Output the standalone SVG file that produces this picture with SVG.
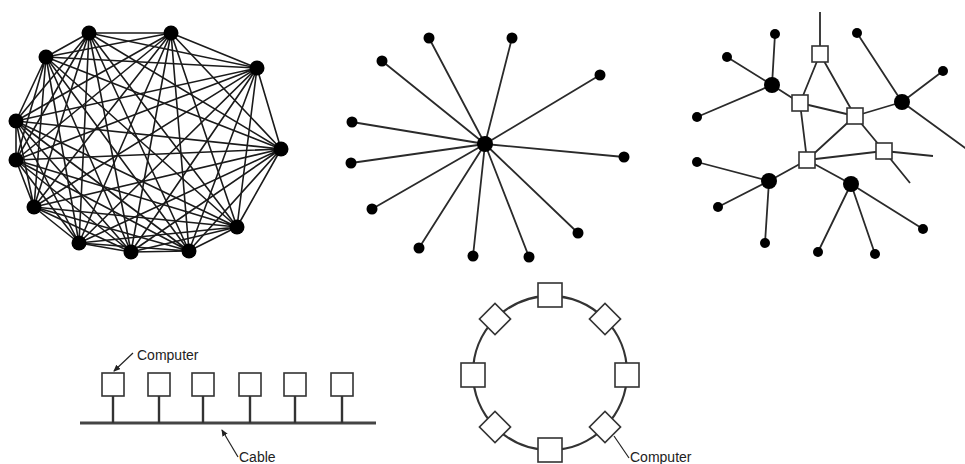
<svg xmlns="http://www.w3.org/2000/svg" width="965" height="464" viewBox="0 0 965 464">
<style>
.bg{fill:#fff}
.edge{stroke:#1a1a1a;stroke-width:1.6;fill:none}
.spoke{stroke:#2a2a2a;stroke-width:1.8;fill:none}
.dot{fill:#000}
.box{fill:#fff;stroke:#333;stroke-width:1.6}
.lbl{font-family:"Liberation Sans",Arial,sans-serif;font-size:14px;fill:#222}
.lead{stroke:#222;stroke-width:1.2;fill:none}
.cable{stroke:#444;stroke-width:3}
.stem{stroke:#333;stroke-width:2.4}
.ring{stroke:#333;stroke-width:2.3;fill:none}
</style>
<defs>
<marker id="arr" markerWidth="8" markerHeight="8" refX="6" refY="3" orient="auto" markerUnits="userSpaceOnUse">
<path d="M0,0 L7,3 L0,6 z" fill="#222"/>
</marker>
</defs>
<rect class="bg" x="0" y="0" width="965" height="464"/>

<g id="connectors">
<g id="mesh-edges" class="edge">
<path d="M89 33L171 33M89 33L257 68M89 33L281 149M89 33L237 227M89 33L189 251M89 33L131 252M89 33L79 243M89 33L34 207M89 33L16 160M89 33L16 121M89 33L46 57"/>
<path d="M171 33L257 68M171 33L281 149M171 33L237 227M171 33L189 251M171 33L131 252M171 33L79 243M171 33L34 207M171 33L16 160M171 33L16 121M171 33L46 57"/>
<path d="M257 68L281 149M257 68L237 227M257 68L189 251M257 68L131 252M257 68L79 243M257 68L34 207M257 68L16 160M257 68L16 121M257 68L46 57"/>
<path d="M281 149L237 227M281 149L189 251M281 149L131 252M281 149L79 243M281 149L34 207M281 149L16 160M281 149L16 121M281 149L46 57"/>
<path d="M237 227L189 251M237 227L131 252M237 227L79 243M237 227L34 207M237 227L16 160M237 227L16 121M237 227L46 57"/>
<path d="M189 251L131 252M189 251L79 243M189 251L34 207M189 251L16 160M189 251L16 121M189 251L46 57"/>
<path d="M131 252L79 243M131 252L34 207M131 252L16 160M131 252L16 121M131 252L46 57"/>
<path d="M79 243L34 207M79 243L16 160M79 243L16 121M79 243L46 57"/>
<path d="M34 207L16 160M34 207L16 121M34 207L46 57"/>
<path d="M16 160L16 121M16 160L46 57M16 121L46 57"/>
</g>
<g id="star-edges" class="spoke">
<path d="M485 144L429 38M485 144L512 38M485 144L600 75M485 144L382 61M485 144L352 122M485 144L351 163M485 144L624 157M485 144L372 209M485 144L419 248M485 144L473 256M485 144L529 257M485 144L578 233"/>
</g>
<g id="tree-edges" class="spoke">
<path d="M820 54L820 12"/>
<path d="M820 54L800 103M820 54L855 116"/>
<path d="M800 103L772 85M800 103L855 116M800 103L807 160"/>
<path d="M855 116L902 102M855 116L807 160M855 116L884 151"/>
<path d="M807 160L769 181M807 160L851 184M807 160L884 151"/>
<path d="M884 151L933 156M884 151L910 183"/>
<path d="M772 85L775 34M772 85L727 57M772 85L697 117"/>
<path d="M902 102L857 33M902 102L943 71M902 102L968 150"/>
<path d="M769 181L697 162M769 181L718 207M769 181L765 243"/>
<path d="M851 184L818 252M851 184L875 254M851 184L923 229"/>
</g>
<g id="bus-edges">
<line class="cable" x1="80" y1="423" x2="376" y2="423"/>
<line class="stem" x1="113" y1="396" x2="113" y2="423"/>
<line class="stem" x1="159" y1="396" x2="159" y2="423"/>
<line class="stem" x1="203" y1="396" x2="203" y2="423"/>
<line class="stem" x1="250" y1="396" x2="250" y2="423"/>
<line class="stem" x1="295" y1="396" x2="295" y2="423"/>
<line class="stem" x1="342" y1="396" x2="342" y2="423"/>
<line class="lead" x1="133" y1="353" x2="114" y2="371" marker-end="url(#arr)"/>
<line class="lead" x1="238" y1="457" x2="222" y2="430" marker-end="url(#arr)"/>
</g>
<g id="ring-edges">
<circle class="ring" cx="550" cy="373" r="77"/>
<line class="lead" x1="614" y1="436" x2="629" y2="458"/>
</g>
</g>

<g id="mesh-nodes" class="dot">
<circle id="m0" cx="89" cy="33" r="7.5"/>
<circle id="m1" cx="171" cy="33" r="7.5"/>
<circle id="m2" cx="257" cy="68" r="7.5"/>
<circle id="m3" cx="281" cy="149" r="7.5"/>
<circle id="m4" cx="237" cy="227" r="7.5"/>
<circle id="m5" cx="189" cy="251" r="7.5"/>
<circle id="m6" cx="131" cy="252" r="7.5"/>
<circle id="m7" cx="79" cy="243" r="7.5"/>
<circle id="m8" cx="34" cy="207" r="7.5"/>
<circle id="m9" cx="16" cy="160" r="7.5"/>
<circle id="m10" cx="16" cy="121" r="7.5"/>
<circle id="m11" cx="46" cy="57" r="7.5"/>
</g>

<g id="star-nodes" class="dot">
<circle id="s-hub" cx="485" cy="144" r="8"/>
<circle id="s1" cx="429" cy="38" r="5.5"/>
<circle id="s2" cx="512" cy="38" r="5.5"/>
<circle id="s3" cx="600" cy="75" r="5.5"/>
<circle id="s4" cx="382" cy="61" r="5.5"/>
<circle id="s5" cx="352" cy="122" r="5.5"/>
<circle id="s6" cx="351" cy="163" r="5.5"/>
<circle id="s7" cx="624" cy="157" r="5.5"/>
<circle id="s8" cx="372" cy="209" r="5.5"/>
<circle id="s9" cx="419" cy="248" r="5.5"/>
<circle id="s10" cx="473" cy="256" r="5.5"/>
<circle id="s11" cx="529" cy="257" r="5.5"/>
<circle id="s12" cx="578" cy="233" r="5.5"/>
</g>

<g id="tree-nodes">
<g id="t-routers">
<rect id="r1" class="box" x="812" y="46" width="16" height="16"/>
<rect id="r2" class="box" x="792" y="95" width="16" height="16"/>
<rect id="r3" class="box" x="847" y="108" width="16" height="16"/>
<rect id="r4" class="box" x="799" y="152" width="16" height="16"/>
<rect id="r5" class="box" x="876" y="143" width="16" height="16"/>
</g>
<g id="t-hosts" class="dot">
<circle id="h1" cx="772" cy="85" r="8"/>
<circle id="h2" cx="902" cy="102" r="8"/>
<circle id="h3" cx="769" cy="181" r="8"/>
<circle id="h4" cx="851" cy="184" r="8"/>
<circle cx="775" cy="34" r="5"/>
<circle cx="727" cy="57" r="5"/>
<circle cx="697" cy="117" r="5"/>
<circle cx="857" cy="33" r="5"/>
<circle cx="943" cy="71" r="5"/>
<circle cx="697" cy="162" r="5"/>
<circle cx="718" cy="207" r="5"/>
<circle cx="765" cy="243" r="5"/>
<circle cx="818" cy="252" r="5"/>
<circle cx="875" cy="254" r="5"/>
<circle cx="923" cy="229" r="5"/>
</g>
</g>

<g id="bus-nodes">
<rect id="b1" class="box" x="102" y="373" width="22" height="23"/>
<rect id="b2" class="box" x="148" y="373" width="22" height="23"/>
<rect id="b3" class="box" x="192" y="373" width="22" height="23"/>
<rect id="b4" class="box" x="239" y="373" width="22" height="23"/>
<rect id="b5" class="box" x="284" y="373" width="22" height="23"/>
<rect id="b6" class="box" x="331" y="373" width="22" height="23"/>
<text class="lbl" x="137" y="360">Computer</text>
<text class="lbl" x="239" y="462">Cable</text>
</g>

<g id="ring-nodes">
<rect id="c1" class="box" x="538" y="283" width="24" height="24"/>
<rect id="c2" class="box" x="538" y="438" width="24" height="24"/>
<rect id="c3" class="box" x="461" y="363" width="24" height="24"/>
<rect id="c4" class="box" x="615" y="363" width="24" height="24"/>
<rect id="c5" class="box" x="-11" y="-11" width="22" height="22" transform="translate(495 319) rotate(45)"/>
<rect id="c6" class="box" x="-11" y="-11" width="22" height="22" transform="translate(605 319) rotate(45)"/>
<rect id="c7" class="box" x="-11" y="-11" width="22" height="22" transform="translate(495 427) rotate(45)"/>
<rect id="c8" class="box" x="-11" y="-11" width="22" height="22" transform="translate(605 427) rotate(45)"/>
<text class="lbl" x="630" y="462">Computer</text>
</g>
</svg>
